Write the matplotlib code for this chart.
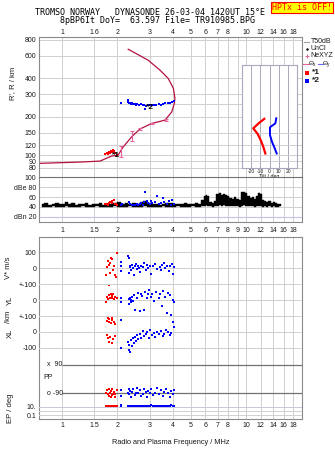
import matplotlib
matplotlib.use("Agg")
import matplotlib.pyplot as plt
from matplotlib.lines import Line2D
from matplotlib.patches import Rectangle
from matplotlib.ticker import NullLocator
from matplotlib.transforms import blended_transform_factory

plt.rcParams['font.family'] = ['Liberation Sans', 'DejaVu Sans']

# ---------------------------------------------------------------- data
FREQ_TICKS = [1, 1.5, 2, 3, 4, 5, 6, 7, 8, 9, 10, 12, 14, 16, 18]
TOP_LABELS = ['1', '1.6', '2', '3', '4', '5', '6', '7', '8', '', '10', '12', '14', '16', '18']
MID_LABELS = ['1', '1.5', '2', '3', '4', '5', '6', '7', '8', '9', '10', '12', '14', '16', '18']
BOT_LABELS = ['1', '1.5', '2', '3', '4', '5', '6', '7', '8', '', '10', '12', '14', '16', '18']

HEIGHT_TICKS = [80, 90, 100, 120, 150, 200, 300, 400, 600, 800]
HEIGHT_GRID = [80, 90, 100, 120, 150, 200, 250, 300, 400, 600, 800]

# true-height profile with topside extension (MHz, km)
prof_f = [0.75, 1.25, 1.61, 1.86, 2.02, 2.14, 2.39, 2.65, 3.07, 3.63, 3.95, 4.08,
          4.11, 4.03, 3.78, 3.41, 2.94, 2.29]
prof_h = [86.3, 88.3, 89.9, 98.4, 100.2, 115, 139, 160, 177, 188, 218, 254,
          278, 333, 398, 462, 553, 674]

# NeXYZ points with error bars
ne_f = [2.09, 2.39, 2.65, 3.07, 3.66]
ne_h = [106, 141, 160, 177, 188]
ne_err_lo = [10, 11, 3, 3, 4]
ne_err_hi = [13, 14, 3, 3, 4]

# echo traces, virtual range (MHz, km)
r1_f = [1.72, 1.75, 1.78, 1.80, 1.82, 1.84, 1.87, 1.89, 1.92, 1.95, 1.98]
r1_h = [102, 104, 103, 106, 104, 108, 105, 110, 107, 104, 101]
r2_f = [2.08, 2.27, 2.29, 2.31, 2.33, 2.36, 2.40, 2.44, 2.48, 2.52, 2.57, 2.62, 2.68, 2.74,
        2.80, 2.83, 2.87, 2.93, 3.00, 3.07, 3.15, 3.25, 3.35, 3.45, 3.55, 3.65, 3.75,
        3.85, 3.95, 4.05]
r2_h = [255, 268, 262, 258, 255, 252, 256, 250, 253, 249, 251, 247, 250, 246,
        248, 230, 244, 247, 245, 248, 246, 249, 251, 248, 252, 255, 258,
        256, 260, 263]

# tilt profiles (deg, km)
tilt_x = [-5.6, -11.0, -17.5, -12.7, -9.5, -6.7, -4.5]
tilt_x_h = [192, 179, 162, 146, 131, 116, 103]
tilt_y = [7.3, 6.3, 0.5, 0.5, 2.7, 5.2, 7.8]
tilt_y_h = [194, 177, 165, 143.5, 127, 115, 103]

# receiver noise band (MHz, dB)
noise_f = [0.78, 0.82, 0.86, 0.90, 0.94, 0.98, 1.02, 1.06, 1.10, 1.15, 1.20, 1.25, 1.30,
           1.36, 1.42, 1.48, 1.55, 1.62, 1.70, 1.78, 1.86, 1.95, 2.04, 2.14, 2.24, 2.35,
           2.46, 2.58, 2.70, 2.83, 2.96, 3.10, 3.25, 3.40, 3.56, 3.73, 3.90, 4.08, 4.27,
           4.47, 4.68, 4.90, 5.13, 5.37, 5.62, 5.80, 5.95, 6.10, 6.25, 6.40, 6.60, 6.80,
           7.00, 7.20, 7.40, 7.60, 7.80, 8.00, 8.25, 8.50, 8.75, 9.00, 9.25, 9.50, 9.75,
           10.0, 10.3, 10.6, 10.9, 11.2, 11.5, 11.8, 12.1, 12.4, 12.7, 13.0, 13.4, 13.8,
           14.2, 14.6, 15.0, 15.4]
noise_hi = [46, 48, 45, 47, 49, 46, 47, 50, 46, 48, 45, 47, 46,
            48, 45, 47, 46, 49, 45, 47, 46, 48, 50, 47, 49, 46,
            48, 47, 50, 52, 48, 47, 46, 45, 47, 49, 48, 46, 47,
            46, 48, 47, 46, 48, 47, 55, 62, 65, 63, 50, 48, 52,
            66, 68, 65, 67, 64, 62, 58, 56, 60, 57, 55, 70, 71,
            68, 62, 58, 60, 57, 62, 69, 66, 55, 52, 50, 53, 49,
            51, 48, 47, 46]
noise_lo = [40, 39, 40, 41, 40, 39, 40, 41, 40, 39, 40, 40, 41,
            40, 39, 40, 41, 40, 39, 40, 40, 41, 40, 39, 40, 41,
            40, 39, 40, 41, 40, 39, 40, 40, 41, 40, 39, 40, 41,
            40, 39, 40, 41, 40, 40, 41, 42, 43, 42, 41, 40, 41,
            42, 43, 42, 43, 42, 41, 42, 41, 42, 41, 40, 42, 43,
            42, 41, 42, 41, 40, 41, 42, 41, 40, 41, 40, 41, 40,
            41, 40, 40, 41]

# echo amplitudes (MHz, dB)
a1_f = [1.72, 1.75, 1.78, 1.80, 1.83, 1.86, 1.88, 1.91, 1.94, 1.97, 2.00]
a1_db = [46, 47, 45, 48, 50, 49, 52, 55, 47, 46, 45]
a2_f = [2.08, 2.12, 2.30, 2.35, 2.40, 2.45, 2.50, 2.55, 2.60, 2.65, 2.70, 2.75, 2.80, 2.83,
        2.88, 2.95, 3.00, 3.05, 3.10, 3.20, 3.27, 3.35, 3.45, 3.52, 3.60, 3.70, 3.80,
        3.90, 3.95, 4.05]
a2_db = [44, 47, 50, 46, 44, 45, 43, 47, 44, 46, 48, 45, 50, 71,
         52, 49, 46, 53, 48, 50, 62, 47, 49, 58, 50, 47, 52,
         45, 55, 47]

# Doppler velocity V* (m/s)
v1_f = [1.74, 1.76, 1.78, 1.79, 1.80, 1.82, 1.83, 1.85, 1.87, 1.89, 1.91, 1.93, 1.96, 1.98]
v1 = [-44, 5, 46, -106, 20, 33, -33, 62, 55, -12, 10, -44, -54, 96]
v2_f = [2.08, 2.09, 2.10, 2.28, 2.30, 2.31, 2.33, 2.35, 2.37, 2.40, 2.42, 2.45, 2.48, 2.52,
        2.55, 2.58, 2.62, 2.66, 2.70, 2.75, 2.80, 2.85, 2.90, 2.95, 3.00, 3.05, 3.12,
        3.20, 3.28, 3.40, 3.45, 3.50, 3.58, 3.65, 3.72, 3.80, 3.88, 3.95, 4.02, 4.08]
v2 = [-20, 10, 35, 75, 60, -30, 15, 5, -10, 20, 0, -45, 10, 25,
      -5, 15, 0, -25, 10, 5, 30, -15, 20, 0, 10, -35, 15,
      25, -5, 5, -10, 20, 30, 0, 15, -20, 10, 25, -40, 5]

# echolocation YL (km)
yl1_f = [1.74, 1.76, 1.78, 1.80, 1.82, 1.84, 1.86, 1.88, 1.90, 1.92, 1.95, 1.98]
yl1 = [-10, 20, 5, 30, 10, 40, 25, 15, 35, 5, 20, 10]
yl2_f = [2.08, 2.10, 2.30, 2.32, 2.34, 2.36, 2.38, 2.41, 2.44, 2.47, 2.50, 2.55, 2.60, 2.64,
         2.68, 2.72, 2.78, 2.83, 2.88, 2.92, 2.97, 3.03, 3.10, 3.17, 3.25, 3.35, 3.42,
         3.48, 3.55, 3.62, 3.70, 3.78, 3.85, 3.92, 4.00, 4.07]
yl2 = [-10, 15, 5, -25, 10, -15, 0, 20, -5, 30, -60, 15, 45, -70,
       40, 25, -65, 50, 10, 35, 60, 20, 40, -5, 50, 10, 35,
       -40, 55, 20, -80, 45, 30, -95, 0, -15]

# echolocation XL (km)
xl1_f = [1.75, 1.77, 1.79, 1.81, 1.84, 1.86, 1.88, 1.91, 1.93,
         1.76, 1.78, 1.80, 1.83, 1.87, 1.90, 1.94]
xl1 = [70, 90, 60, 80, 55, 75, 85, 65, 50, -20, -40, -60, -30, -70, -45, -25]
xl2_f = [2.08, 2.10, 2.28, 2.30, 2.32, 2.34, 2.36, 2.39, 2.42, 2.45, 2.48, 2.52, 2.56, 2.60,
         2.65, 2.70, 2.75, 2.80, 2.85, 2.90, 2.96, 3.02, 3.08, 3.15, 3.22, 3.30, 3.38,
         3.45, 3.52, 3.60, 3.68, 3.76, 3.84, 3.92, 4.00, 4.06]
xl2 = [75, -100, -60, -110, -80, -125, -50, -90, -40, -70, -30, -55, -20, -45,
       -10, -35, 5, -25, -15, 0, -40, 10, -20, -5, -30, 0, -15,
       5, -25, -10, 10, 0, -20, -5, 64, 33]

# polarization PP (deg)
pp1_f = [1.74, 1.76, 1.78, 1.80, 1.82, 1.84, 1.86, 1.88, 1.90, 1.92, 1.95, 1.98, 1.79, 1.85, 1.93]
pp1 = [-85, -70, -95, -65, -88, -75, -100, -60, -92, -80, -110, -72, -105, -112, -96]
pp2_f = [2.08, 2.10, 2.28, 2.30, 2.32, 2.35, 2.38, 2.41, 2.44, 2.48, 2.52, 2.56, 2.60, 2.65,
         2.70, 2.75, 2.80, 2.85, 2.90, 2.95, 3.00, 3.06, 3.12, 3.20, 3.28, 3.36, 3.44,
         3.52, 3.60, 3.68, 3.76, 3.84, 3.92, 4.00, 4.06]
pp2 = [-70, -105, -85, -60, -95, -75, -110, -80, -65, -100, -90, -55, -85, -70,
       -105, -95, -60, -80, -110, -75, -90, -65, -100, -85, -55, -95, -70,
       -105, -80, -60, -90, -110, -75, -95, -70]

# phase error EP (deg)
ep1_f = [1.73, 1.75, 1.77, 1.79, 1.81, 1.83, 1.85, 1.87, 1.89, 1.91, 1.93, 1.95, 1.97, 1.99]
ep1 = [13, 14, 12, 13, 15, 12, 13, 14, 12, 13, 15, 12, 13, 16]
ep2_f = [2.08, 2.10, 2.28, 2.31, 2.34, 2.37, 2.40, 2.43, 2.46, 2.50, 2.54, 2.58, 2.62, 2.66,
         2.70, 2.75, 2.80, 2.85, 2.90, 2.95, 3.00, 3.06, 3.12, 3.20, 3.28, 3.36, 3.44,
         3.52, 3.60, 3.68, 3.76, 3.84, 3.92, 4.00, 4.06]
ep2 = [12, 20, 14, 12, 16, 13, 11, 15, 14, 12, 18, 13, 15, 11,
       14, 12, 16, 13, 14, 12, 15, 20, 13, 12, 14, 11, 16,
       13, 12, 15, 14, 12, 22, 13, 11]

# ---------------------------------------------------------------- style
W, H = 335, 451
FREQ_LIM = (0.75, 20.15)
GRID = '#d0d0d0'
FRAME = '#8a8a8a'
DARK = '#707070'
TXT = '#1a1a1a'
RED = '#ff0000'
BLUE = '#0000ff'
PROF = '#b3123f'
PINK = '#e8649e'
FS = 5.0
MS = 1.7


def px_box(x0, y0, x1, y1):
    return [x0 / W, 1 - y1 / H, (x1 - x0) / W, (y1 - y0) / H]


def fx(x):
    return x / W


def fy(y):
    return 1 - y / H


def freq_axis(ax, labels, top=False, pad=2.0):
    ax.set_xscale('log')
    ax.set_xlim(*FREQ_LIM)
    ax.set_xticks(FREQ_TICKS)
    ax.set_xticklabels(labels)
    ax.xaxis.set_minor_locator(NullLocator())
    if top:
        ax.xaxis.tick_top()
    for f in FREQ_TICKS:
        ax.axvline(f, color=GRID, lw=0.7, zorder=0)
    ax.tick_params(axis='x', length=0, labelsize=FS, colors=TXT, pad=pad)
    ax.tick_params(axis='y', length=0, labelsize=FS, colors=TXT, pad=2)
    for s in ax.spines.values():
        s.set_color(FRAME)
        s.set_linewidth(0.8)


def dots(ax, f, v, color):
    ax.plot(f, v, ls='none', marker='s', ms=MS, mew=0, color=color, zorder=3)


fig = plt.figure(figsize=(W / 100, H / 100), dpi=100)
fig.patch.set_facecolor('white')

# ---------------------------------------------------------------- range panel
ax_h = fig.add_axes(px_box(39, 37, 302, 177))
freq_axis(ax_h, TOP_LABELS, top=True, pad=1.0)
ax_h.set_yscale('log')
ax_h.set_ylim(67.5, 840)
ax_h.yaxis.set_minor_locator(NullLocator())
ax_h.set_yticks(HEIGHT_TICKS)
ax_h.set_yticklabels([str(v) for v in HEIGHT_TICKS])
for h in HEIGHT_GRID:
    ax_h.axhline(h, color=GRID, lw=0.7, zorder=0)
ax_h.spines['bottom'].set_visible(False)

ax_h.plot(prof_f, prof_h, color=PROF, lw=0.9, zorder=2)
ax_h.errorbar(ne_f, ne_h, yerr=[ne_err_lo, ne_err_hi], fmt='none', ecolor=PINK,
              elinewidth=0.8, capsize=1.2, capthick=0.8, zorder=3)
dots(ax_h, r1_f, r1_h, RED)
dots(ax_h, r2_f, r2_h, BLUE)
ax_h.text(1.97, 100, '*1', fontsize=6, fontweight='bold', color='black',
          ha='center', va='center', zorder=4)
ax_h.text(3.0, 237, '*2', fontsize=6, fontweight='bold', color='black',
          ha='center', va='center', zorder=4)
fig.text(fx(13), fy(83), "R', R / km", rotation=90, ha='center', va='center',
         fontsize=FS + 0.5, color=TXT)

# ---------------------------------------------------------------- tilt inset
ax_t = fig.add_axes(px_box(241.7, 65, 297.3, 168))
ax_t.set_facecolor('white')
ax_t.set_xlim(-30, 30)
ax_t.set_yscale('log')
ax_t.set_ylim(79.3, 506)
ax_t.yaxis.set_minor_locator(NullLocator())
ax_t.set_yticks([])
for t in [-20, -10, 0, 10, 20]:
    ax_t.axvline(t, color='#a8a8b8', lw=0.7, zorder=0)
for h in [80, 90, 100, 120, 150]:
    ax_t.axhline(h, color=GRID, lw=0.7, zorder=0)
ax_t.set_xticks([-20, -10, 0, 10, 20])
ax_t.set_xticklabels(['-20', '-10', '0', '10', '20'])
ax_t.tick_params(length=0, labelsize=3.6, colors=TXT, pad=0.8)
ax_t.set_xlabel('Tilt / deg', fontsize=3.8, color=TXT, labelpad=-0.3)
for s in ax_t.spines.values():
    s.set_color('#a8a8c0')
    s.set_linewidth(0.8)
ax_t.plot(tilt_x, tilt_x_h, color=RED, lw=1.6, zorder=3)
ax_t.plot(tilt_y, tilt_y_h, color=BLUE, lw=1.4, zorder=3)

# ---------------------------------------------------------------- amplitude panel
ax_db = fig.add_axes(px_box(39, 177, 302, 222))
freq_axis(ax_db, MID_LABELS, pad=3.5)
ax_db.set_ylim(10, 100)
ax_db.set_yticks([100, 80, 60, 40, 20])
ax_db.set_yticklabels(['100', 'dBe 80', '60', '40', 'dBn 20'])
for d in [80, 60, 40]:
    ax_db.axhline(d, color=GRID, lw=0.7, zorder=0)
ax_db.axhline(20, color='#c4c4ea', lw=0.8, zorder=0)
ax_db.spines['top'].set_color(DARK)
ax_db.fill_between(noise_f, noise_lo, noise_hi, step='mid', color='black', lw=0.3,
                   edgecolor='black', zorder=2)
dots(ax_db, a1_f, a1_db, RED)
dots(ax_db, a2_f, a2_db, BLUE)

# ---------------------------------------------------------------- drift panel
V_LIM = (-946, 196)
ax_v = fig.add_axes(px_box(39, 236.7, 302, 419.3))
freq_axis(ax_v, BOT_LABELS, pad=2.0)
ax_v.set_ylim(*V_LIM)
ax_v.set_yticks([100, 0])
ax_v.set_yticklabels(['100', '0'])
for v in [100, 0]:
    ax_v.axhline(v, color=GRID, lw=0.7, zorder=0)
ax_v.set_xlabel('Radio and Plasma Frequency / MHz', fontsize=FS + 0.3, color=TXT,
                labelpad=7)


def overlay(offset, scale='linear', lim=None):
    o = ax_v.twinx()
    o.set_yscale(scale)
    o.set_ylim(*(lim if lim else (V_LIM[0] + offset, V_LIM[1] + offset)))
    o.yaxis.tick_left()
    o.yaxis.set_minor_locator(NullLocator())
    for s in o.spines.values():
        s.set_visible(False)
    o.tick_params(length=0, labelsize=FS, colors=TXT, pad=2)
    o.set_yticks([])
    return o


ax_yl = overlay(200)
ax_yl.set_yticks([100, 0, -100])
ax_yl.set_yticklabels(['+-100', '0', '+-100'])
for v in [100, 0, -100]:
    ax_yl.axhline(v, color=GRID, lw=0.7, zorder=0)

ax_xl = overlay(400)
ax_xl.set_yticks([0, -100])
ax_xl.set_yticklabels(['0', '-100'])
for v in [0, -100]:
    ax_xl.axhline(v, color=GRID, lw=0.7, zorder=0)

ax_pp = overlay(693.5)
ax_pp.hlines([90, -90], 1.0, FREQ_LIM[1], color=DARK, lw=0.9, zorder=1)
bt = blended_transform_factory(ax_pp.transAxes, ax_pp.transData)
ax_pp.text(0.029, 90, 'x  90', transform=bt, fontsize=FS, color=TXT, va='center', ha='left')
ax_pp.text(0.029, -90, 'o -90', transform=bt, fontsize=FS, color=TXT, va='center', ha='left')
ax_pp.text(0.015, 6, 'PP', transform=bt, fontsize=FS, color=TXT, va='center', ha='left')

ax_ep = overlay(0, scale='log', lim=(0.01186, 2.3e40))
ax_ep.set_yticks([10, 0.1])
ax_ep.set_yticklabels(['10.', '0.1'])
for e, c in [(10, '#c8c8dc'), (1, GRID), (0.1, GRID)]:
    ax_ep.axhline(e, color=c, lw=0.7, zorder=0)

dots(ax_v, v1_f, v1, RED)
dots(ax_v, v2_f, v2, BLUE)
dots(ax_yl, yl1_f, yl1, RED)
dots(ax_yl, yl2_f, yl2, BLUE)
dots(ax_xl, xl1_f, xl1, RED)
dots(ax_xl, xl2_f, xl2, BLUE)
dots(ax_pp, pp1_f, pp1, RED)
dots(ax_pp, pp2_f, pp2, BLUE)
dots(ax_ep, ep1_f, ep1, RED)
dots(ax_ep, ep2_f, ep2, BLUE)

side = dict(rotation=90, ha='center', va='center', fontsize=FS + 0.5, color=TXT)
fig.text(fx(8), fy(268), 'V* m/s', **side)
fig.text(fx(10), fy(300), 'YL', **side)
fig.text(fx(9), fy(317), '/km', **side)
fig.text(fx(10), fy(333), 'XL', **side)
fig.text(fx(10), fy(408), 'EP / deg', **side)

# ---------------------------------------------------------------- legend
leg = dict(fontsize=FS, color=TXT, va='center', ha='left')
fig.add_artist(Line2D([fx(304), fx(309)], [fy(41.7)] * 2, color='#a0a0a0', lw=0.8))
fig.text(fx(310.5), fy(41.7), 'T50dB', **leg)
fig.add_artist(Line2D([fx(307)], [fy(48.6)], marker='.', ms=1.5, color='black', ls='none'))
fig.text(fx(310.5), fy(48.6), 'UnCl', **leg)
fig.add_artist(Line2D([fx(307)], [fy(55.5)], marker='+', ms=3.5, mew=0.7, color=PINK, ls='none'))
fig.text(fx(310.5), fy(55.5), 'NeXYZ', **leg)
fig.add_artist(Line2D([fx(303), fx(308.5)], [fy(63.5)] * 2, color=PINK, lw=0.8))
fig.text(fx(309), fy(63.3), 'Θ', fontsize=4.6, color=TXT, va='center', ha='left')
fig.text(fx(313.2), fy(64.6), 'x', fontsize=3.4, color=TXT, va='center', ha='left')
fig.add_artist(Line2D([fx(317.5), fx(322.5)], [fy(63.5)] * 2, color='#6a6aff', lw=0.8))
fig.text(fx(323), fy(63.3), 'Θ', fontsize=4.6, color=TXT, va='center', ha='left')
fig.text(fx(327.2), fy(64.6), 'y', fontsize=3.4, color=TXT, va='center', ha='left')
fig.add_artist(Line2D([fx(306.7)], [fy(72.5)], marker='s', ms=2.6, mew=0, color=RED, ls='none'))
fig.text(fx(312), fy(72.5), '*1', fontsize=FS + 1, fontweight='bold', color=TXT, va='center')
fig.add_artist(Line2D([fx(306.7)], [fy(80.5)], marker='s', ms=2.6, mew=0, color=BLUE, ls='none'))
fig.text(fx(312), fy(80.5), '*2', fontsize=FS + 1, fontweight='bold', color=TXT, va='center')

# ---------------------------------------------------------------- header
mono = dict(family='DejaVu Sans Mono', fontsize=6, color='black', va='center', ha='left')
fig.text(fx(35), fy(12.5), 'TROMSO NORWAY   DYNASONDE 26-03-04 1420UT 15°E', **mono)
fig.text(fx(60), fy(20.5), '8pBP6It DoY=  63.597 File= TR910985.BPG', **mono)
fig.add_artist(Rectangle((fx(270.7), fy(12.7)), (333 - 270.7) / W, 11 / H,
                         transform=fig.transFigure, facecolor='#ffff00',
                         edgecolor=RED, lw=0.8))
fig.text(fx(302), fy(7.3), 'HPTx is OFF!', family='DejaVu Sans Mono', fontsize=6,
         color=RED, ha='center', va='center')

fig.savefig('out.png', dpi=100, facecolor='white')
